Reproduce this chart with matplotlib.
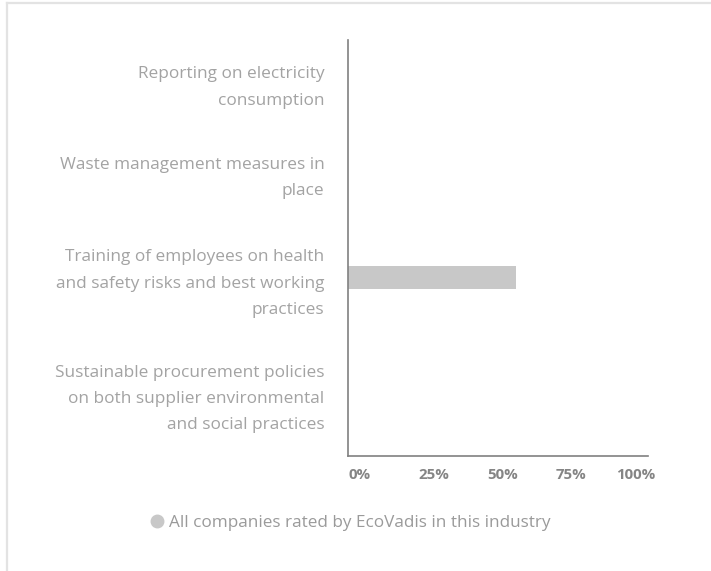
import matplotlib
matplotlib.use("Agg")
import matplotlib.pyplot as plt
from matplotlib.lines import Line2D
from matplotlib.transforms import ScaledTranslation

categories = [
    "Reporting on electricity\nconsumption",
    "Waste management measures in\nplace",
    "Training of employees on health\nand safety risks and best working\npractices",
    "Sustainable procurement policies\non both supplier environmental\nand social practices",
]
values = [None, None, 56, None]
series_name = "All companies rated by EcoVadis in this industry"
xticks = [0, 25, 50, 75, 100]
xtick_labels = ["0%", "25%", "50%", "75%", "100%"]

plt.rcParams['font.family'] = ['Open Sans', 'DejaVu Sans']

W, H = 711, 571
fig = plt.figure(figsize=(W / 100, H / 100), dpi=100)
fig.patch.set_facecolor("white")

# plot area
ax = fig.add_axes([348 / W, 115 / H, 300 / W, 416 / H])
bar_color = "#c8c8c8"
bar_offset = -0.216
bar_height = 0.221
for i, v in enumerate(values):
    if v is None:
        continue
    ax.barh(i + bar_offset, v, height=bar_height, color=bar_color, linewidth=0)

ax.set_xlim(0, 100)
ax.set_ylim(3.5, -0.5)
for s in ["top", "right"]:
    ax.spines[s].set_visible(False)
for s in ["left", "bottom"]:
    ax.spines[s].set_color("#808080")
    ax.spines[s].set_linewidth(1.2)

ax.set_yticks(range(len(categories)))
ax.set_yticklabels(categories, fontsize=12.4, color="#a3a3a3", linespacing=1.86)
ax.tick_params(axis="y", length=0, pad=17)
y_offsets_px = [-11.5, -25, -23.5, -12]
for lab, dy in zip(ax.get_yticklabels(), y_offsets_px):
    lab.set_transform(lab.get_transform() + ScaledTranslation(0, -dy / 100, fig.dpi_scale_trans))

ax.set_xticks(xticks)
ax.set_xticklabels(xtick_labels, fontsize=10.8, fontweight="bold", color="#858585")
ax.tick_params(axis="x", length=0, pad=8.5)
x_offsets_px = [12, 11, 5, -2, -12]
for lab, dx in zip(ax.get_xticklabels(), x_offsets_px):
    lab.set_transform(lab.get_transform() + ScaledTranslation(dx / 100, 0, fig.dpi_scale_trans))

# legend
handle = Line2D([], [], marker="o", linestyle="none", markersize=9,
                markerfacecolor=bar_color, markeredgecolor=bar_color)
leg = fig.legend([handle], [series_name], loc="center", bbox_to_anchor=(350 / W, 48 / H),
                 frameon=False, fontsize=12.3, handletextpad=0.2, handlelength=1.0)
for t in leg.get_texts():
    t.set_color("#9a9a9a")

# outer border (top and left)
fig.add_artist(Line2D([6.5 / W, 1], [1 - 2.5 / H, 1 - 2.5 / H], transform=fig.transFigure,
                      color="#e3e3e3", linewidth=1.6))
fig.add_artist(Line2D([6.5 / W, 6.5 / W], [0, 1 - 2.5 / H], transform=fig.transFigure,
                      color="#e3e3e3", linewidth=1.6))

fig.savefig("out.png", dpi=100, facecolor="white")
